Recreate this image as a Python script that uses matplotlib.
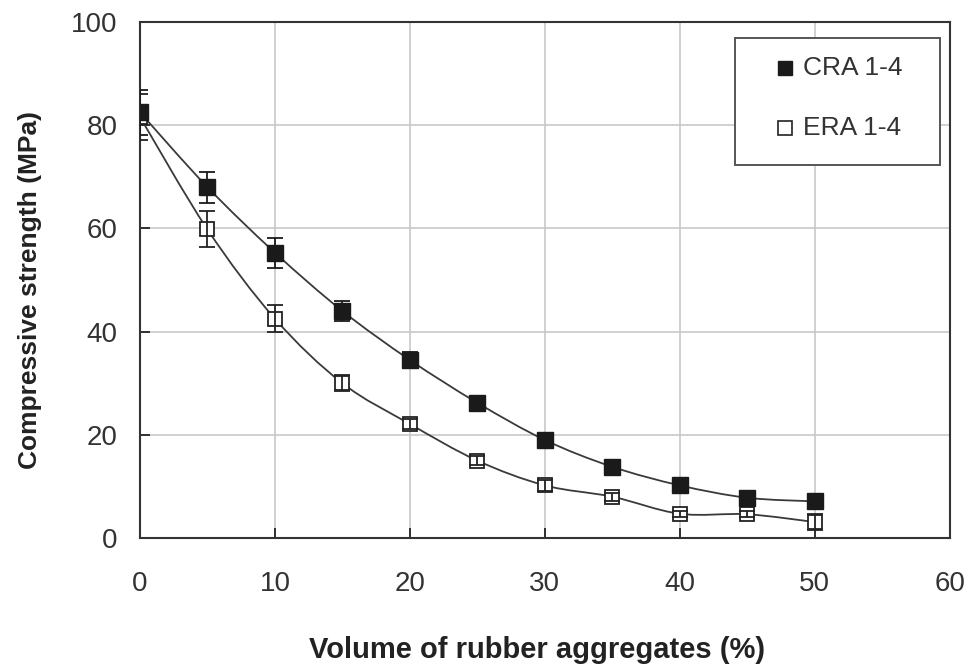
import numpy as np
import matplotlib.pyplot as plt
from matplotlib.path import Path
from matplotlib.patches import PathPatch, Rectangle

plt.rcParams['font.family'] = ['Liberation Sans', 'DejaVu Sans']

# rubber aggregate content (%)
volume = [0, 5, 10, 15, 20, 25, 30, 35, 40, 45, 50]

# compressive strength (MPa) and scatter
cra_strength = [82.5, 68.0, 55.3, 44.0, 34.5, 26.2, 19.0, 13.8, 10.2, 7.8, 7.1]
cra_err = [4.4, 3.0, 2.9, 2.0, 1.5, 1.0, 1.0, 0.6, 0.6, 0.6, 1.0]
era_strength = [81.6, 59.8, 42.5, 30.0, 22.1, 15.0, 10.2, 8.0, 4.7, 4.6, 3.1]
era_err = [4.5, 3.5, 2.6, 1.5, 1.0, 0.8, 1.0, 0.8, 0.6, 0.6, 1.5]

series_labels = ['CRA 1-4', 'ERA 1-4']


def smooth_path(x, y, t=1/6):
    # Catmull-Rom style bezier through the points (spreadsheet "smoothed line")
    x = np.asarray(x, float)
    y = np.asarray(y, float)
    verts = [(x[0], y[0])]
    codes = [Path.MOVETO]
    n = len(x)
    for i in range(n - 1):
        p0 = (x[max(i - 1, 0)], y[max(i - 1, 0)])
        p1 = (x[i], y[i])
        p2 = (x[i + 1], y[i + 1])
        p3 = (x[min(i + 2, n - 1)], y[min(i + 2, n - 1)])
        c1 = (p1[0] + (p2[0] - p0[0]) * t, p1[1] + (p2[1] - p0[1]) * t)
        c2 = (p2[0] - (p3[0] - p1[0]) * t, p2[1] - (p3[1] - p1[1]) * t)
        verts += [c1, c2, p2]
        codes += [Path.CURVE4] * 3
    return Path(verts, codes)


fig = plt.figure(figsize=(9.72, 6.67), dpi=100)
ax = fig.add_axes([0.144, 0.1934, 0.833, 0.7736])

for s in [era_strength, cra_strength]:
    ax.add_patch(PathPatch(smooth_path(volume, s), fill=False,
                           edgecolor='#3a3a3a', lw=1.3, zorder=3))

# open squares first, their bars drawn over them
ax.plot(volume, era_strength, 's', ms=10.5, mfc='white', mec='#222222',
        mew=1.3, zorder=4)
ax.errorbar(volume, era_strength, yerr=era_err, fmt='none', ecolor='#222222',
            elinewidth=1.3, capsize=6, capthick=1.3, zorder=4.5)
ax.errorbar(volume, cra_strength, yerr=cra_err, fmt='s', ms=11.5,
            mfc='#1a1a1a', mec='#1a1a1a', ecolor='#1a1a1a',
            elinewidth=1.3, capsize=6, capthick=1.3, zorder=5)

ax.set_xlim(0, 60)
ax.set_ylim(0, 100)
ax.set_xticks(range(0, 61, 10))
ax.set_yticks(range(0, 101, 20))
ax.grid(True, color='#c8c8c8', lw=1.2, zorder=0)
ax.set_axisbelow(True)
ax.tick_params(direction='in', length=7, width=1.3, colors='#222222',
               labelsize=20, labelcolor='#333333')
ax.tick_params(axis='x', pad=24)
ax.tick_params(axis='y', pad=16)
for sp in ax.spines.values():
    sp.set_color('#333333')
    sp.set_linewidth(1.5)

ax.set_xlabel('Volume of rubber aggregates (%)', fontsize=21,
              fontweight='bold', color='#222222', va='center')
ax.xaxis.set_label_coords(0.49, -0.218)
ax.set_ylabel('Compressive strength (MPa)', fontsize=19,
              fontweight='bold', color='#222222', va='center')
ax.yaxis.set_label_coords(-0.136, 0.48)

# legend box
ax.add_patch(Rectangle((0.7346, 0.7229), 0.2531, 0.2461, transform=ax.transAxes,
                       facecolor='white', edgecolor='#555555', lw=1.4,
                       zorder=6))
ax.plot([0.797], [0.911], 's', ms=10, mfc='#1a1a1a', mec='#1a1a1a',
        transform=ax.transAxes, zorder=7)
ax.plot([0.797], [0.7946], 's', ms=10, mfc='white', mec='#222222', mew=1.2,
        transform=ax.transAxes, zorder=7)
ax.text(0.8185, 0.911, series_labels[0], fontsize=19, color='#333333',
        va='center', ha='left', transform=ax.transAxes, zorder=7)
ax.text(0.8185, 0.7946, series_labels[1], fontsize=19, color='#333333',
        va='center', ha='left', transform=ax.transAxes, zorder=7)

fig.savefig('out.png', dpi=100)
